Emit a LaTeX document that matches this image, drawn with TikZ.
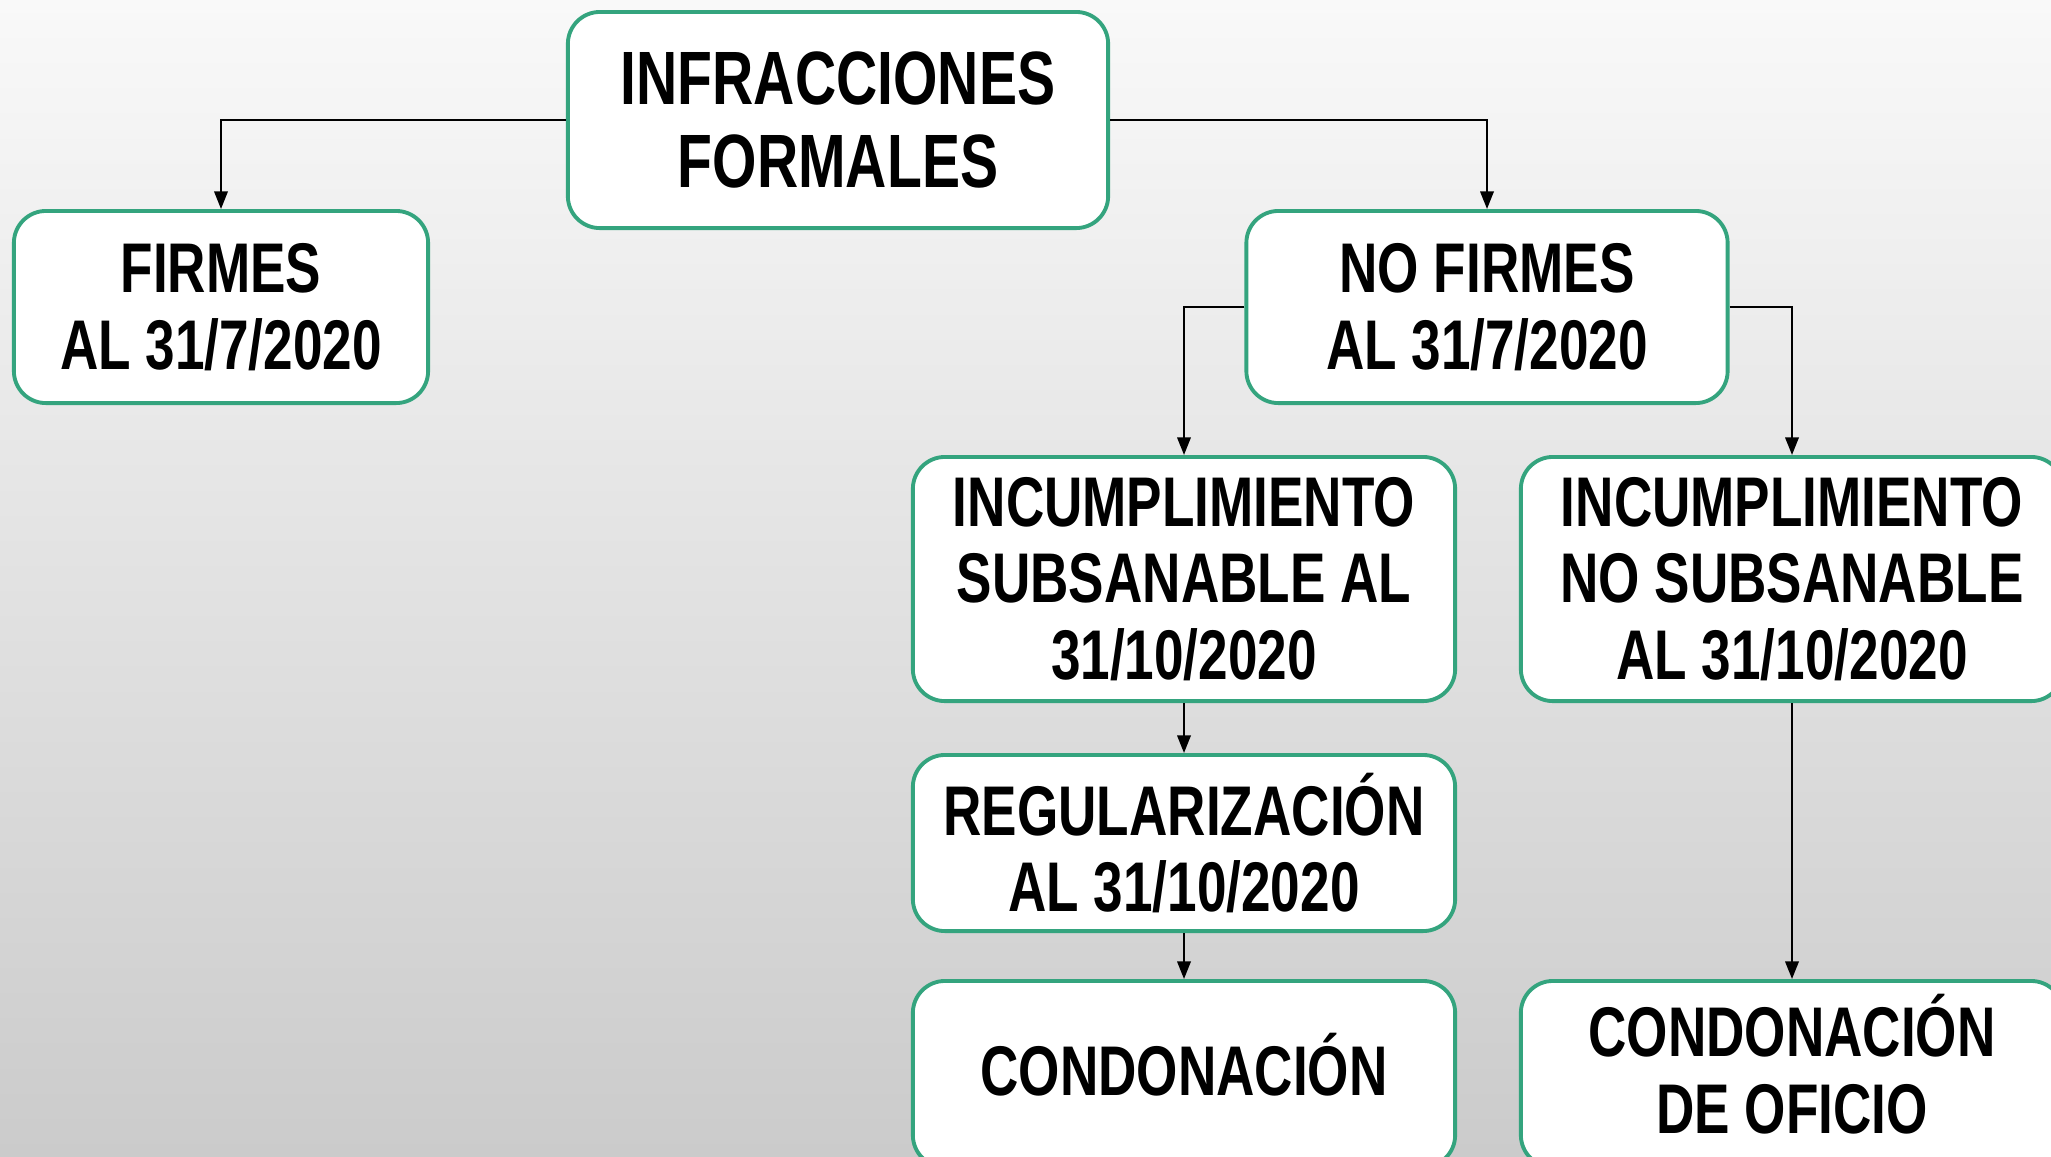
\documentclass[tikz,border=0pt]{standalone}
\usepackage{fontspec}
\setmainfont{Liberation Sans}[FakeStretch=0.755]
\usetikzlibrary{arrows.meta}
\definecolor{verdecaja}{RGB}{52,164,126}
\definecolor{fondoalto}{RGB}{249,249,249}
\definecolor{fondobajo}{RGB}{203,203,203}
\tikzset{
  caja/.style={draw=verdecaja, line width=1.1pt, fill=white, rounded corners=0.32cm,
    align=center, inner sep=0pt, font=\bfseries\fontsize{20}{21.8}\selectfont},
  flecha/.style={-{Triangle[length=5pt,width=3.8pt]}, line width=0.65pt, black}
}

\begin{document}
\begin{tikzpicture}[x=0.01cm,y=-0.01cm]
        \useasboundingbox (0,0) rectangle (2051,1156);
        \shade[top color=fondoalto, bottom color=fondobajo] (0,0) rectangle (2051,1156);
        \clip (0,0) rectangle (2051,1156);

        \node[caja, minimum width=5.40cm, minimum height=2.16cm,
          font=\bfseries\fontsize{21.5}{23.5}\selectfont] (infr) at (838,120)
        {INFRACCIONES\\FORMALES};
        \node[caja, minimum width=4.14cm, minimum height=1.92cm] (firmes) at (221,307)
        {FIRMES\\AL 31/7/2020};
        \node[caja, minimum width=4.81cm, minimum height=1.92cm] (nofirmes) at (1487,307)
        {NO FIRMES\\AL 31/7/2020};
        \node[caja, minimum width=5.42cm, minimum height=2.44cm] (subs) at (1184,579)
        {INCUMPLIMIENTO\\SUBSANABLE AL\\31/10/2020};
        \node[caja, minimum width=5.42cm, minimum height=2.44cm] (nosubs) at (1792,579)
        {INCUMPLIMIENTO\\NO SUBSANABLE\\AL 31/10/2020};
        \node[caja, minimum width=5.42cm, minimum height=1.76cm] (regul) at (1184,843)
        {REGULARIZACIÓN\\AL 31/10/2020};
        \node[caja, minimum width=5.42cm, minimum height=1.86cm, text depth=0.2cm] (cond) at (1184,1074)
        {CONDONACIÓN};
        \node[caja, minimum width=5.42cm, minimum height=1.86cm, text depth=0.2cm] (condof) at (1792,1074)
        {CONDONACIÓN\\DE OFICIO};

        \draw[flecha] (infr.west) -| (firmes.north);
        \draw[flecha] (infr.east) -| (nofirmes.north);
        \draw[flecha] (nofirmes.west) -| (subs.north);
        \draw[flecha] (nofirmes.east) -| (nosubs.north);
        \draw[flecha] (subs.south) -- (regul.north);
        \draw[flecha] (regul.south) -- (cond.north);
        \draw[flecha] (nosubs.south) -- (condof.north);

      \end{tikzpicture}
\end{document}
